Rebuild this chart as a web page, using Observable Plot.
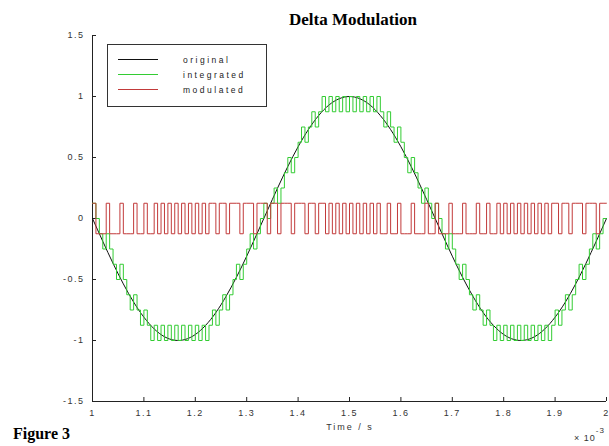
<!DOCTYPE html>
<html><head><meta charset="utf-8">
<script src="https://cdn.jsdelivr.net/npm/d3@7"></script>
<script src="https://cdn.jsdelivr.net/npm/@observablehq/plot@0.6"></script>
<style>
body{margin:0;background:#fff}
#c{width:609px;height:446px;position:relative;overflow:hidden;background:#fff}
#c svg g[aria-label$="tick label"] text{letter-spacing:1.5px}
</style>
</head><body><div id="c"></div>
<script>
// ---- data ----
const titleText = "Delta Modulation";
const xLabelText = "Time / s";
const figureText = "Figure 3";
const seriesNames = ["original", "integrated", "modulated"];
const seriesColors = ["#111111", "#33cc33", "#c23a3a"];

const xTicks = [1, 1.1, 1.2, 1.3, 1.4, 1.5, 1.6, 1.7, 1.8, 1.9, 2];
const yTicks = [-1.5, -1, -0.5, 0, 0.5, 1, 1.5];

// original signal, sampled every 0.02 (x 10^-3 s)
const originalT = [1,1.02,1.04,1.06,1.08,1.1,1.12,1.14,1.16,1.18,1.2,1.22,1.24,1.26,1.28,1.3,1.32,1.34,1.36,1.38,1.4,1.42,1.44,1.46,1.48,1.5,1.52,1.54,1.56,1.58,1.6,1.62,1.64,1.66,1.68,1.7,1.72,1.74,1.76,1.78,1.8,1.82,1.84,1.86,1.88,1.9,1.92,1.94,1.96,1.98,2];
const originalV = [0,-0.187,-0.368,-0.536,-0.685,-0.809,-0.905,-0.969,-0.998,-0.992,-0.951,-0.876,-0.771,-0.637,-0.482,-0.309,-0.125,0.063,0.249,0.426,0.588,0.729,0.844,0.930,0.982,1.000,0.982,0.930,0.844,0.729,0.588,0.426,0.249,0.063,-0.125,-0.309,-0.482,-0.637,-0.771,-0.876,-0.951,-0.992,-0.998,-0.969,-0.905,-0.809,-0.685,-0.536,-0.368,-0.187,0];

// delta-modulator output bits (1 = up, 0 = down), one per sample
const sampleStart = 1;
const samplePeriod = 1 / 150;
const stepSize = 0.125;
const modulatedBits = [
1,0,0,0,1,0,0,0,1,0, 0,0,1,0,0,1,0,0,1,0, 1,0,1,0,1,0,1,0,1,0, 1,0,1,0,1,1,0,1,1,0, 1,1,1,0,1,1,1,0,1,1,
1,0,1,1,0,1,1,1,0,1, 1,1,0,1,1,0,1,1,0,1, 0,1,0,1,0,1,0,1,0,1, 0,1,0,1,0,0,1,0,0,1, 0,0,0,1,0,0,0,1,0,0,
1,0,0,0,1,0,0,0,1,0, 0,0,1,0,0,1,0,0,1,0, 1,0,1,0,1,0,1,0,1,0, 1,0,1,0,1,1,0,1,1,0, 1,1,1,0,1,1,1,0,1,1
];
// integrator output, in steps
const integratedSteps = [
1,0,-1,-2,-1,-2,-3,-4,-3,-4, -5,-6,-5,-6,-7,-6,-7,-8,-7,-8, -7,-8,-7,-8,-7,-8,-7,-8,-7,-8, -7,-8,-7,-8,-7,-6,-7,-6,-5,-6, -5,-4,-3,-4,-3,-2,-1,-2,-1,0,
1,0,1,2,1,2,3,4,3,4, 5,6,5,6,7,6,7,8,7,8, 7,8,7,8,7,8,7,8,7,8, 7,8,7,8,7,6,7,6,5,6, 5,4,3,4,3,2,1,2,1,0,
1,0,-1,-2,-1,-2,-3,-4,-3,-4, -5,-6,-5,-6,-7,-6,-7,-8,-7,-8, -7,-8,-7,-8,-7,-8,-7,-8,-7,-8, -7,-8,-7,-8,-7,-6,-7,-6,-5,-6, -5,-4,-3,-4,-3,-2,-1,-2,-1,0
];

// ---- tables for the library ----
const original = originalT.map((t, i) => ({t, v: originalV[i]}));
function stairs(values) {
  const rows = values.map((v, i) => ({t: sampleStart + i * samplePeriod, v}));
  rows.push({t: xTicks[xTicks.length - 1], v: values[values.length - 1]});
  return rows;
}
const integrated = stairs(integratedSteps.map(s => s * stepSize));
const modulated = stairs(modulatedBits.map(b => (b ? stepSize : -stepSize)));

const W = 609, H = 446;
const font = "'Liberation Sans', Arial, sans-serif";
const serif = "'Liberation Serif', 'Times New Roman', serif";
const chart = Plot.plot({
  width: W, height: H,
  marginLeft: 92, marginRight: 3, marginTop: 35, marginBottom: 45,
  style: {background: "#fff", fontFamily: font, fontSize: "9px", color: "#333", overflow: "visible"},
  x: {domain: [1, 2], label: null},
  y: {domain: [-1.5, 1.5], label: null},
  marks: [
    Plot.axisX({ticks: xTicks, tickSize: -4, tickPadding: 12, tickFormat: d => String(d), label: null, stroke: "#222"}),
    Plot.axisY({ticks: yTicks, tickSize: -4, tickPadding: 12, tickFormat: d => String(d), label: null, stroke: "#222"}),
    Plot.ruleX([xTicks[0]], {stroke: "#222"}),
    Plot.ruleY([yTicks[0]], {stroke: "#222"}),
    Plot.line(original, {x: "t", y: "v", curve: "natural", stroke: seriesColors[0], strokeWidth: 1}),
    Plot.line(integrated, {x: "t", y: "v", curve: "step-after", stroke: seriesColors[1], strokeWidth: 1}),
    Plot.line(modulated, {x: "t", y: "v", curve: "step-after", stroke: seriesColors[2], strokeWidth: 1})
  ]
});
document.getElementById("c").appendChild(chart);

const svg = d3.select(chart);
// title
svg.append("text").attr("x", 353).attr("y", 25).attr("text-anchor", "middle")
  .style("font", `bold 17px ${serif}`).attr("fill", "#000").text(titleText);
// x label
svg.append("text").attr("x", 350).attr("y", 430).attr("text-anchor", "middle")
  .style("font", `9px ${font}`).style("letter-spacing", "2px").attr("fill", "#333").text(xLabelText);
// exponent
const ex = svg.append("text").attr("x", 574).attr("y", 441).attr("text-anchor", "start")
  .style("font", `9px ${font}`).style("letter-spacing", "1px").attr("fill", "#333");
ex.append("tspan").text("× 10");
ex.append("tspan").attr("dy", -8).style("font-size", "8px").text("-3");
// figure caption
svg.append("text").attr("x", 13).attr("y", 439).attr("text-anchor", "start")
  .style("font", `bold 16px ${serif}`).attr("fill", "#000").text(figureText);
// legend
const lg = svg.append("g");
lg.append("rect").attr("x", 107.5).attr("y", 44.5).attr("width", 159).attr("height", 62)
  .attr("fill", "#fff").attr("stroke", "#333");
seriesNames.forEach((name, i) => {
  const y = 59.5 + i * 15;
  lg.append("line").attr("x1", 118).attr("x2", 158).attr("y1", y).attr("y2", y)
    .attr("stroke", seriesColors[i]).attr("stroke-width", 1);
  lg.append("text").attr("x", 183).attr("y", y + 3).attr("text-anchor", "start")
    .style("font", `8.5px ${font}`).style("letter-spacing", "2.5px").attr("fill", "#222").text(name);
});
</script>
</body></html>
